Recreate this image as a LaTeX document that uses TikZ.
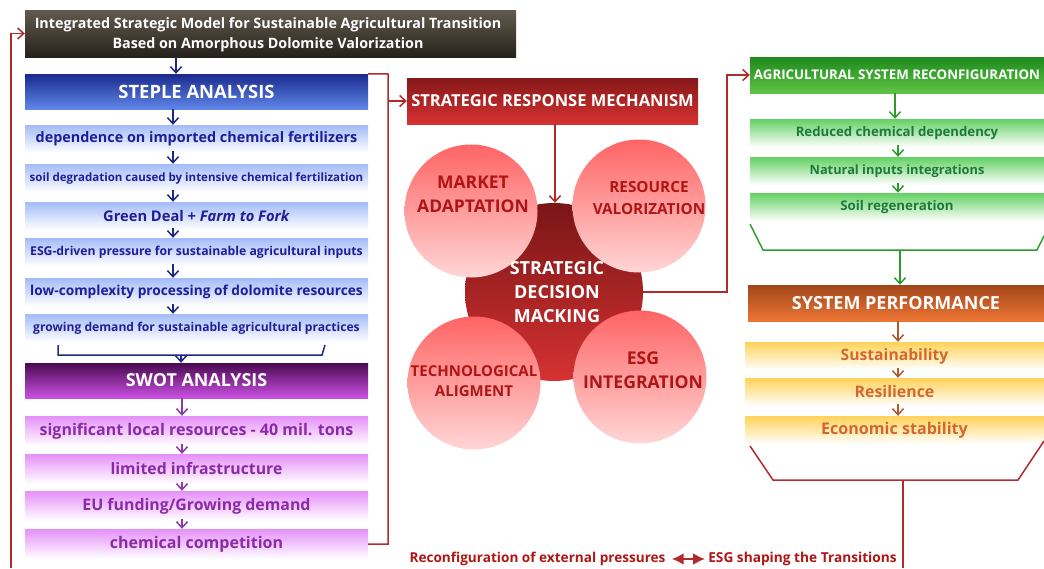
\documentclass[tikz,border=0pt]{standalone}
\usepackage{fontspec}
\setmainfont{Open Sans}
\usetikzlibrary{arrows.meta}

\definecolor{redln}{HTML}{B22A2A}
\definecolor{navy}{HTML}{1E2A80}
\definecolor{navytxt}{HTML}{1E1E9A}
\definecolor{plum}{HTML}{8A3AA0}
\definecolor{plumtxt}{HTML}{8A2AA8}
\definecolor{leaf}{HTML}{2A9A2A}
\definecolor{leaftxt}{HTML}{1E7A3A}
\definecolor{rust}{HTML}{B05A30}
\definecolor{ambertxt}{HTML}{D4682A}
\definecolor{wine}{HTML}{B01515}
\definecolor{titletop}{HTML}{625A4E}
\definecolor{titlebot}{HTML}{26221C}
\definecolor{bluetop}{HTML}{1A2A8E}
\definecolor{bluebot}{HTML}{5F86E8}
\definecolor{blueitem}{HTML}{A3BBF7}
\definecolor{violtop}{HTML}{4A0A50}
\definecolor{violbot}{HTML}{CC50E4}
\definecolor{violitem}{HTML}{E590F8}
\definecolor{redtop}{HTML}{861818}
\definecolor{redbot}{HTML}{D63232}
\definecolor{sattop}{HTML}{FF6464}
\definecolor{satbot}{HTML}{FFD6D6}
\definecolor{greentop}{HTML}{1E8A1E}
\definecolor{greenbot}{HTML}{5EC444}
\definecolor{greenitem}{HTML}{62D062}
\definecolor{orangetop}{HTML}{A0461A}
\definecolor{orangebot}{HTML}{EE7634}
\definecolor{yellowitem}{HTML}{FFD258}

\tikzset{
  hdr/.style={inner sep=0pt, text=white, font=\bfseries},
  blueitem/.style={inner sep=0pt, minimum width=343, minimum height=28,
    top color=blueitem, bottom color=white, text=navytxt, font=\bfseries},
  purpleitem/.style={inner sep=0pt, minimum width=343, minimum height=30,
    top color=violitem, bottom color=white, text=plumtxt, font=\bfseries},
  greenitem/.style={inner sep=0pt, minimum width=294, minimum height=28,
    top color=greenitem, bottom color=white, text=leaftxt, font=\bfseries},
  yellowitem/.style={inner sep=0pt, minimum width=299, minimum height=28,
    top color=yellowitem, bottom color=white, text=ambertxt, font=\bfseries},
  satellite/.style={circle, inner sep=0pt, minimum size=133, top color=sattop, bottom color=satbot},
  sattxt/.style={inner sep=0pt, text=wine, align=center},
  tip/.style={-{Straight Barb[length=6pt,width=11pt]}},
  ln/.style={line width=1.5pt},
}

\begin{document}
\begin{tikzpicture}[x=1pt,y=-1pt]
    \useasboundingbox (0,0) rectangle (1044,568);

    \node[hdr, minimum width=491, minimum height=47, top color=titletop, bottom color=titlebot]
        (title) at (270.5,33.5) {};
    \node[hdr, align=center, font=\bfseries\fontsize{14.3}{20}\selectfont] (titletxt) at (268,35)
        {Integrated Strategic Model for Sustainable Agricultural Transition\\Based on Amorphous Dolomite Valorization};

    \node[hdr, minimum width=343, minimum height=35, top color=bluetop, bottom color=bluebot,
        font=\bfseries\fontsize{18.4}{20}\selectfont] (steple) at (196.5,91.5) {STEPLE ANALYSIS};
    \node[blueitem, font=\bfseries\fontsize{14.4}{16}\selectfont] (s1) at (196.5,139) {dependence on imported chemical fertilizers};
    \node[blueitem, font=\bfseries\fontsize{11.5}{13}\selectfont] (s2) at (196.5,178) {soil degradation caused by intensive chemical fertilization};
    \node[blueitem, font=\bfseries\fontsize{14.7}{16}\selectfont] (s3) at (196.5,216) {Green Deal + \textit{Farm to Fork}};
    \node[blueitem, font=\bfseries\fontsize{12.2}{14}\selectfont] (s4) at (196.5,252) {ESG-driven pressure for sustainable agricultural inputs};
    \node[blueitem, font=\bfseries\fontsize{13.7}{15}\selectfont] (s5) at (196.5,292) {low-complexity processing of dolomite resources};
    \node[blueitem, font=\bfseries\fontsize{12.1}{14}\selectfont] (s6) at (196.5,328) {growing demand for sustainable agricultural practices};

    \node[hdr, minimum width=343, minimum height=35, top color=violtop, bottom color=violbot,
        font=\bfseries\fontsize{17.9}{20}\selectfont] (swot) at (196.5,380.5) {SWOT ANALYSIS};
    \node[purpleitem, font=\bfseries\fontsize{16}{18}\selectfont] (w1) at (196.5,431) {significant local resources - 40 mil. tons};
    \node[purpleitem, font=\bfseries\fontsize{15.8}{18}\selectfont] (w2) at (196.5,469) {limited infrastructure};
    \node[purpleitem, font=\bfseries\fontsize{15.9}{18}\selectfont] (w3) at (196.5,506) {EU funding/Growing demand};
    \node[purpleitem, font=\bfseries\fontsize{16}{18}\selectfont] (w4) at (196.5,544) {chemical competition};

    \draw[navy, ln, tip] (title.south -| 176,0) -- (steple.north -| 176,0);
    \draw[navy, ln, tip] (steple.south -| 173,0) -- (s1.north -| 173,0);
    \foreach \a/\b in {s1/s2,s2/s3,s3/s4,s4/s5,s5/s6}
        \draw[navy, ln, tip] ([yshift=2]\a.south -| 173,0) -- (\b.north -| 173,0);
    \draw[navy, ln] (58,345) -- (58,355) -- (322,355) -- (325,345);
    \coordinate (sb) at (181,355);
    \draw[navy, ln, tip] (sb) -- (swot.north -| sb);
    \draw[plum, ln, tip] (swot.south -| 182,0) -- (w1.north -| 182,0);
    \foreach \a/\b in {w1/w2,w2/w3,w3/w4}
        \draw[plum, ln, tip] ([yshift=2]\a.south -| 182,0) -- (\b.north -| 182,0);

    \node[hdr, minimum width=291, minimum height=46, top color=redtop, bottom color=redbot,
        font=\bfseries\fontsize{16.5}{18}\selectfont] (srm) at (552.5,101) {STRATEGIC RESPONSE MECHANISM};

    \node[circle, minimum size=178, top color=redtop!90!black, bottom color=redbot] (sdm) at (554,292) {};
    \node[satellite] (market) at (471,211) {};
    \node[satellite] (resource) at (639,206) {};
    \node[satellite] (techno) at (474,383) {};
    \node[satellite] (esgint) at (640,377) {};
    \node[sattxt, font=\bfseries\fontsize{17.5}{24}\selectfont] (markettxt) at (473,194) {MARKET\\ADAPTATION};
    \node[sattxt, font=\bfseries\fontsize{15.3}{22}\selectfont] (resourcetxt) at (649,198) {RESOURCE\\VALORIZATION};
    \node[sattxt, font=\bfseries\fontsize{15}{20}\selectfont] (technotxt) at (474,381) {TECHNOLOGICAL\\ALIGMENT};
    \node[sattxt, font=\bfseries\fontsize{17.6}{24}\selectfont] (esginttxt) at (643,370) {ESG\\INTEGRATION};
    \node[hdr, align=center, font=\bfseries\fontsize{18}{24}\selectfont] (sdmtxt) at (557,292) {STRATEGIC\\DECISION\\MACKING};
    \draw[redln, ln, tip] (srm.south -| 555,0) -- (sdm.north -| 555,0);

    \coordinate (rj) at (388,74);
    \draw[redln, ln] (steple.north east) -- (rj) |- (w4.east);
    \draw[redln, ln, tip] (rj |- srm.west) -- (srm.west);

    \node[hdr, minimum width=294, minimum height=36, top color=greentop, bottom color=greenbot,
        font=\bfseries\fontsize{13.3}{16}\selectfont] (asr) at (897,75) {AGRICULTURAL SYSTEM RECONFIGURATION};
    \draw[redln, ln, tip] (sdm.east) -- ++(84,0) |- (asr.west);
    \node[greenitem, font=\bfseries\fontsize{13.2}{15}\selectfont] (g1) at (897,133) {Reduced chemical dependency};
    \node[greenitem, font=\bfseries\fontsize{12.8}{15}\selectfont] (g2) at (897,171) {Natural inputs integrations};
    \node[greenitem, font=\bfseries\fontsize{13.3}{15}\selectfont] (g3) at (897,207) {Soil regeneration};
    \draw[leaf, ln, tip] (asr.south -| 895,0) -- (g1.north -| 895,0);
    \foreach \a/\b in {g1/g2,g2/g3}
        \draw[leaf, ln, tip] ([yshift=2]\a.south -| 898,0) -- (\b.north -| 898,0);
    \draw[leaf, ln] (750,224) -- (763,250) -- (1037,250) -- (1044,236);
    \coordinate (gb) at (900,250);

    \node[hdr, minimum width=296, minimum height=36, top color=orangetop, bottom color=orangebot,
        font=\bfseries\fontsize{18}{20}\selectfont] (sp) at (896,303) {SYSTEM PERFORMANCE};
    \draw[leaf, ln, tip] (gb) -- (sp.north -| gb);
    \node[yellowitem, font=\bfseries\fontsize{15.7}{18}\selectfont] (y1) at (894.5,356) {Sustainability};
    \node[yellowitem, font=\bfseries\fontsize{15.9}{18}\selectfont] (y2) at (894.5,392) {Resilience};
    \node[yellowitem, font=\bfseries\fontsize{16.1}{18}\selectfont] (y3) at (894.5,430) {Economic stability};
    \draw[rust, ln, tip] (sp.south -| 898,0) -- (y1.north -| 898,0);
    \foreach \a/\b in {y1/y2,y2/y3}
        \draw[rust, ln, tip] ([yshift=2]\a.south -| 898,0) -- (\b.north -| 898,0);
    \draw[redln, ln] (750,446) -- (773,480) -- (1018,480) -- (1044,441);
    \coordinate (pb) at (903,480);
    \coordinate (pe) at (903,568);
    \draw[redln, ln] (pb) -- (pe);

    \coordinate (fb) at (11,568);
    \draw[redln, ln, tip] (fb) |- (title.west);

    \node[text=wine, font=\bfseries\fontsize{13.6}{15}\selectfont, inner sep=0pt] (ext) at (537.5,559) {Reconfiguration of external pressures};
    \node[text=wine, font=\bfseries\fontsize{13.7}{15}\selectfont, inner sep=0pt] (esgt) at (802.5,559) {ESG shaping the Transitions};
    \draw[redln, line width=2.5pt, {Latex[length=12pt,width=12pt]}-{Latex[length=12pt,width=12pt]}] ([xshift=6]ext.east) -- ([xshift=-3]esgt.west);
\end{tikzpicture}
\end{document}
